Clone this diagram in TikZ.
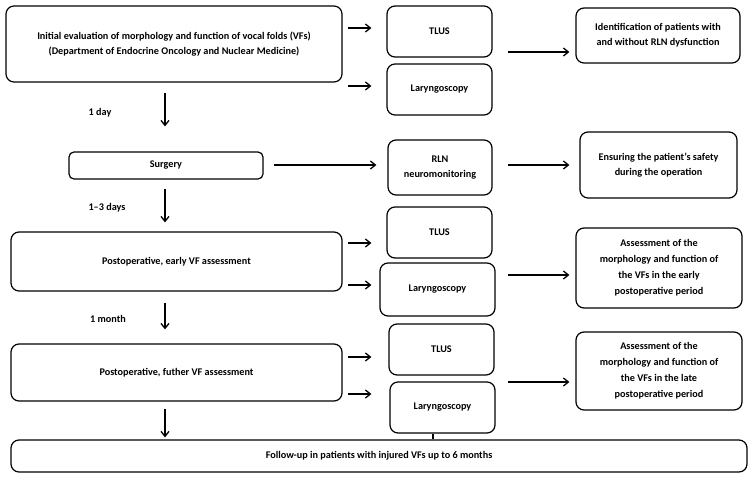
\documentclass[tikz,border=0pt]{standalone}
\usepackage{fontspec}
\setmainfont{Carlito}
\usetikzlibrary{arrows.meta}
\begin{document}
\begin{tikzpicture}[x=1pt,y=-1pt,
  font=\bfseries\fontsize{10.2}{15}\selectfont,
  box/.style={draw, line width=1.2pt, rounded corners=8pt, align=center, inner sep=2pt},
  lbl/.style={inner sep=0pt, align=center},
  arr/.style={line width=1.3pt, -{Straight Barb[length=5pt,width=8pt,line width=1.3pt]}}]
\useasboundingbox (0,0) rectangle (752,479);
% boxes
\node[box, minimum width=336pt, minimum height=76pt] (init) at (174,44)
  {Initial evaluation of morphology and function of vocal folds (VFs)\\(Department of Endocrine Oncology and Nuclear Medicine)};
\node[box, minimum width=105pt, minimum height=51pt] (tlus1) at (439.5,31.5) {TLUS};
\node[box, minimum width=105pt, minimum height=51pt] (lar1) at (439.5,89.5) {Laryngoscopy};
\node[box, minimum width=164pt, minimum height=55pt] (ident) at (658,35.5)
  {Identification of patients with\\and without RLN dysfunction};
\node[box, minimum width=194pt, minimum height=27pt, rounded corners=5pt] (surg) at (166,165.5) {Surgery};
\node[box, minimum width=104pt, minimum height=55pt] (rln) at (440,167.5) {RLN\\neuromonitoring};
\node[box, minimum width=157pt, minimum height=66pt] (ens) at (658.5,165)
  {Ensuring the patient's safety\\during the operation};
\node[box, minimum width=331pt, minimum height=59pt] (early) at (176.5,261.5) {Postoperative, early VF assessment};
\node[box, minimum width=105pt, minimum height=51pt] (tlus2) at (439.5,232.5) {TLUS};
\node[box, minimum width=115pt, minimum height=53pt] (lar2) at (437.5,289.5) {Laryngoscopy};
\node[box, minimum width=166pt, minimum height=80pt, font=\bfseries\fontsize{10.2}{16}\selectfont] (asse) at (659,268)
  {Assessment of the\\morphology and function of\\the VFs in the early\\postoperative period};
\node[box, minimum width=331pt, minimum height=57pt] (further) at (176.5,372.5) {Postoperative, futher VF assessment};
\node[box, minimum width=105pt, minimum height=51pt] (tlus3) at (441.5,349.5) {TLUS};
\node[box, minimum width=105pt, minimum height=51pt] (lar3) at (442.5,407.5) {Laryngoscopy};
\node[box, minimum width=166pt, minimum height=78pt, font=\bfseries\fontsize{10.2}{16}\selectfont] (assl) at (659,371)
  {Assessment of the\\morphology and function of\\the VFs in the late\\postoperative period};
\node[box, minimum width=736pt, minimum height=32pt] (follow) at (379,456)
  {Follow-up in patients with injured VFs up to 6 months};
% labels
\node[lbl] (l1) at (100,113) {1 day};
\node[lbl] (l2) at (107,208) {1--3 days};
\node[lbl] (l3) at (108,319) {1 month};
% horizontal arrows
\draw[arr] ([xshift=5pt]init.east |- 0,28) -- ([xshift=-15pt]tlus1.west |- 0,28);
\draw[arr] ([xshift=5pt]init.east |- 0,86) -- ([xshift=-15pt]lar1.west |- 0,86);
\draw[arr] ([xshift=15pt]tlus1.east |- 0,52) -- ([xshift=-6pt]ident.west |- 0,52);
\draw[arr] ([xshift=10pt]surg.east |- 0,165) -- ([xshift=-11pt]rln.west |- 0,165);
\draw[arr] ([xshift=15pt]rln.east |- 0,165) -- ([xshift=-10pt]ens.west |- 0,165);
\draw[arr] ([xshift=5pt]early.east |- 0,243) -- ([xshift=-15pt]tlus2.west |- 0,243);
\draw[arr] ([xshift=5pt]early.east |- 0,285) -- ([xshift=-8pt]lar2.west |- 0,285);
\draw[arr] ([xshift=12pt]lar2.east |- 0,275) -- ([xshift=-6pt]asse.west |- 0,275);
\draw[arr] ([xshift=5pt]further.east |- 0,357) -- ([xshift=-17pt]tlus3.west |- 0,357);
\draw[arr] ([xshift=5pt]further.east |- 0,394) -- ([xshift=-18pt]lar3.west |- 0,394);
\draw[arr] ([xshift=13pt]tlus3.east |- 0,382) -- ([xshift=-6pt]assl.west |- 0,382);
% vertical arrows
\draw[arr] (165,0 |- init.south) ++(0,10) -- ([yshift=25pt]165,0 |- surg.north);
\draw[arr] ([yshift=-9pt]165,0 |- surg.south) -- ([yshift=9pt]165,0 |- early.north);
\draw[arr] ([yshift=-11pt]165,0 |- early.south) -- ([yshift=14pt]165,0 |- further.north);
\draw[arr] ([yshift=-7pt]165,0 |- further.south) -- ([yshift=2pt]165,0 |- follow.north);
% connecting line
\draw[line width=1.2pt] (433,0 |- lar3.south) -- (433,0 |- follow.north);
\end{tikzpicture}
\end{document}
